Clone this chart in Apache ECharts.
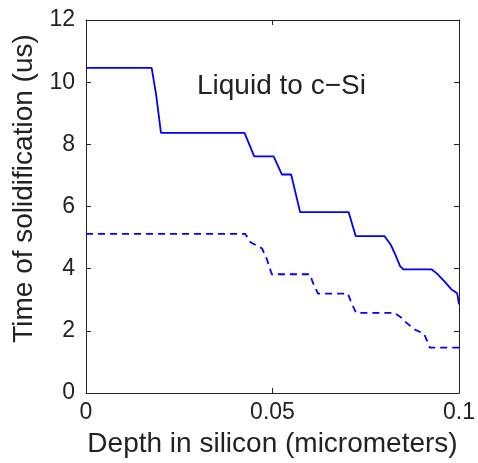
<!DOCTYPE html>
<html>
<head>
<meta charset="utf-8">
<script src="https://cdn.jsdelivr.net/npm/echarts@6/dist/echarts.min.js"></script>
<style>
  html, body { margin: 0; padding: 0; background: #fff; }
  #main { width: 478px; height: 463px; }
</style>
</head>
<body>
<div id="main"></div>
<script>
// solid curve (upper)
var solidDepth = [0, 0.0176, 0.0188, 0.0201, 0.0425, 0.0451, 0.0503, 0.0525, 0.0550, 0.0574,
  0.0704, 0.0723, 0.0800, 0.0817, 0.0831, 0.0842, 0.0851, 0.0926, 0.0941, 0.0964, 0.0979, 0.0995, 0.1];
var solidTime = [10.46, 10.46, 9.6, 8.37, 8.37, 7.61, 7.61, 7.03, 7.03, 5.82,
  5.82, 5.05, 5.05, 4.77, 4.40, 4.08, 3.98, 3.98, 3.84, 3.55, 3.34, 3.21, 2.85];

// dashed curve (lower)
var dashDepth = [0, 0.0427, 0.0441, 0.0472, 0.0485, 0.0498, 0.0600, 0.0609, 0.0622, 0.0702,
  0.0711, 0.0724, 0.0826, 0.0844, 0.0857, 0.0880, 0.0906, 0.0922, 0.1];
var dashTime = [5.12, 5.12, 4.85, 4.65, 4.30, 3.82, 3.82, 3.53, 3.20, 3.20,
  2.92, 2.58, 2.58, 2.44, 2.28, 2.05, 1.91, 1.46, 1.46];

var xTicks = [0, 0.05, 0.1];
var yTicks = [0, 2, 4, 6, 8, 10, 12];

var labelText = 'Liquid to c\u2212Si';
var xName = 'Depth in silicon (micrometers)';
var yName = 'Time of solidification (us)';

function zip(xs, ys) {
  return xs.map(function (x, i) { return [x, ys[i]]; });
}

var font = '"Liberation Sans", Arial, sans-serif';
var ink = '#222';

var tick = { show: true, inside: true, length: 5, lineStyle: { color: ink } };
var line = { show: true, onZero: false, lineStyle: { color: ink, width: 1 } };

var option = {
  animation: false,
  backgroundColor: '#fff',
  title: {
    text: labelText,
    left: 197,
    top: 72,
    padding: 0,
    textStyle: { fontFamily: font, fontSize: 28, fontWeight: 'normal', color: ink }
  },
  grid: { left: 86, right: 16, top: 20, bottom: 67 },
  xAxis: [
    {
      type: 'value', position: 'bottom',
      min: xTicks[0], max: xTicks[xTicks.length - 1], interval: 0.05,
      axisLine: line, axisTick: tick, splitLine: { show: false },
      axisLabel: { margin: 8, fontFamily: font, fontSize: 23, color: ink, showMaxLabel: true, showMinLabel: true },
      name: xName, nameLocation: 'middle', nameGap: 37,
      nameTextStyle: { fontFamily: font, fontSize: 28, color: ink }
    },
    {
      type: 'value', position: 'top',
      min: xTicks[0], max: xTicks[xTicks.length - 1], interval: 0.05,
      axisLine: line, axisTick: tick, splitLine: { show: false },
      axisLabel: { show: false }
    }
  ],
  yAxis: [
    {
      type: 'value', position: 'left',
      min: yTicks[0], max: yTicks[yTicks.length - 1], interval: 2,
      axisLine: line, axisTick: tick, splitLine: { show: false },
      axisLabel: { margin: 11, fontFamily: font, fontSize: 23, color: ink },
      name: yName, nameLocation: 'middle', nameGap: 46,
      nameTextStyle: { fontFamily: font, fontSize: 28, color: ink, padding: [0, 0, 0, 36] }
    },
    {
      type: 'value', position: 'right',
      min: yTicks[0], max: yTicks[yTicks.length - 1], interval: 2,
      axisLine: line, axisTick: tick, splitLine: { show: false },
      axisLabel: { show: false }
    }
  ],
  series: [
    {
      type: 'line', data: zip(solidDepth, solidTime),
      showSymbol: false, symbol: 'none', clip: true,
      lineStyle: { color: '#0000ff', width: 1.8, type: 'solid' }
    },
    {
      type: 'line', data: zip(dashDepth, dashTime),
      showSymbol: false, symbol: 'none', clip: true,
      lineStyle: { color: '#0000ff', width: 1.8, type: [7, 5] }
    }
  ]
};

var chart = echarts.init(document.getElementById('main'), null, { renderer: 'canvas' });
chart.setOption(option);
</script>
</body>
</html>
